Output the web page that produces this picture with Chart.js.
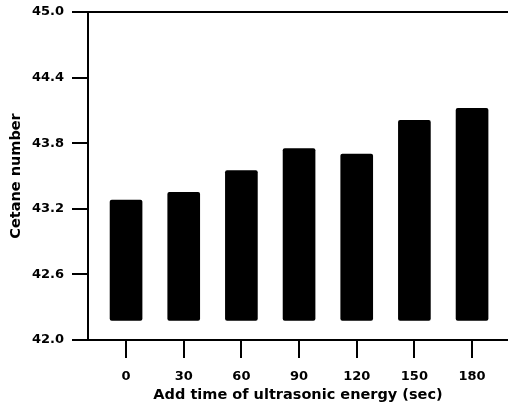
<!DOCTYPE html>
<html>
<head>
<meta charset="utf-8">
<script src="https://cdn.jsdelivr.net/npm/chart.js@4/dist/chart.umd.min.js"></script>
<style>
    html, body { margin: 0; padding: 0; background: #fff; }
    #wrap { width: 508px; height: 407px; }
</style>
</head>
<body>
<div id="wrap"><canvas id="chart" width="508" height="407"></canvas></div>
<script>
// Data
const addTimes = [0, 30, 60, 90, 120, 150, 180];          // sec
const cetaneNumber = [43.28, 43.35, 43.55, 43.75, 43.70, 44.01, 44.12];
const barBase = 42.18;                                    // bars start a bit above the axis
const yTicks = [42.0, 42.6, 43.2, 43.8, 44.4, 45.0];

const FONT = "'DejaVu Sans', Arial, sans-serif";

// top frame line (only the y axis and bottom axis are drawn by the scales)
const topLine = {
    id: 'topLine',
    afterDraw(chart) {
        const { ctx, chartArea } = chart;
        const y = chart.scales.y.getPixelForValue(45);
        ctx.save();
        ctx.strokeStyle = '#000';
        ctx.lineWidth = 2;
        ctx.beginPath();
        ctx.moveTo(chartArea.left, y);
        ctx.lineTo(chart.width, y);
        ctx.stroke();
        ctx.restore();
    }
};

new Chart(document.getElementById('chart'), {
    type: 'bar',
    data: {
        datasets: [{
            data: addTimes.map((t, i) => ({ x: t, y: [barBase, cetaneNumber[i]] })),
            backgroundColor: '#000',
            borderWidth: 0,
            borderRadius: 2,
            borderSkipped: false,
            barThickness: 32
        }]
    },
    options: {
        responsive: false,
        animation: false,
        devicePixelRatio: 1,
        layout: { padding: { top: 12, right: 0, left: 0, bottom: 0 } },
        plugins: { legend: { display: false }, tooltip: { enabled: false } },
        scales: {
            x: {
                type: 'linear',
                offset: false,
                min: -19.8,
                max: 198.7,
                afterBuildTicks: axis => { axis.ticks = addTimes.map(v => ({ value: v })); },
                afterFit: scale => { scale.height = 67; },
                grid: { offset: false, drawOnChartArea: false, drawTicks: true, tickLength: 18, color: '#000', lineWidth: 2 },
                border: { display: true, color: '#000', width: 2 },
                ticks: { color: '#000', padding: 11, maxRotation: 0, font: { family: FONT, size: 13, weight: 'bold' } },
                title: {
                    display: true,
                    text: 'Add time of ultrasonic energy (sec)',
                    color: '#000',
                    font: { family: FONT, size: 14.5, weight: 'bold' },
                    padding: { top: 0, bottom: 3 }
                }
            },
            y: {
                min: 42,
                max: 45,
                afterBuildTicks: axis => { axis.ticks = yTicks.map(v => ({ value: v })); },
                afterFit: scale => {
                    scale.width = 88;
                    scale.paddingTop = 0;
                    scale.paddingBottom = 0;
                },
                grid: { drawOnChartArea: false, drawTicks: true, tickLength: 16, color: '#000', lineWidth: 2 },
                border: { display: true, color: '#000', width: 2 },
                ticks: {
                    color: '#000',
                    padding: 8,
                    font: { family: FONT, size: 13, weight: 'bold' },
                    callback: v => Number(v).toFixed(1)
                },
                title: {
                    display: true,
                    text: 'Cetane number',
                    color: '#000',
                    font: { family: FONT, size: 14.5, weight: 'bold' },
                    padding: { top: 8, bottom: 0 }
                }
            }
        }
    },
    plugins: [topLine]
});
</script>
</body>
</html>
